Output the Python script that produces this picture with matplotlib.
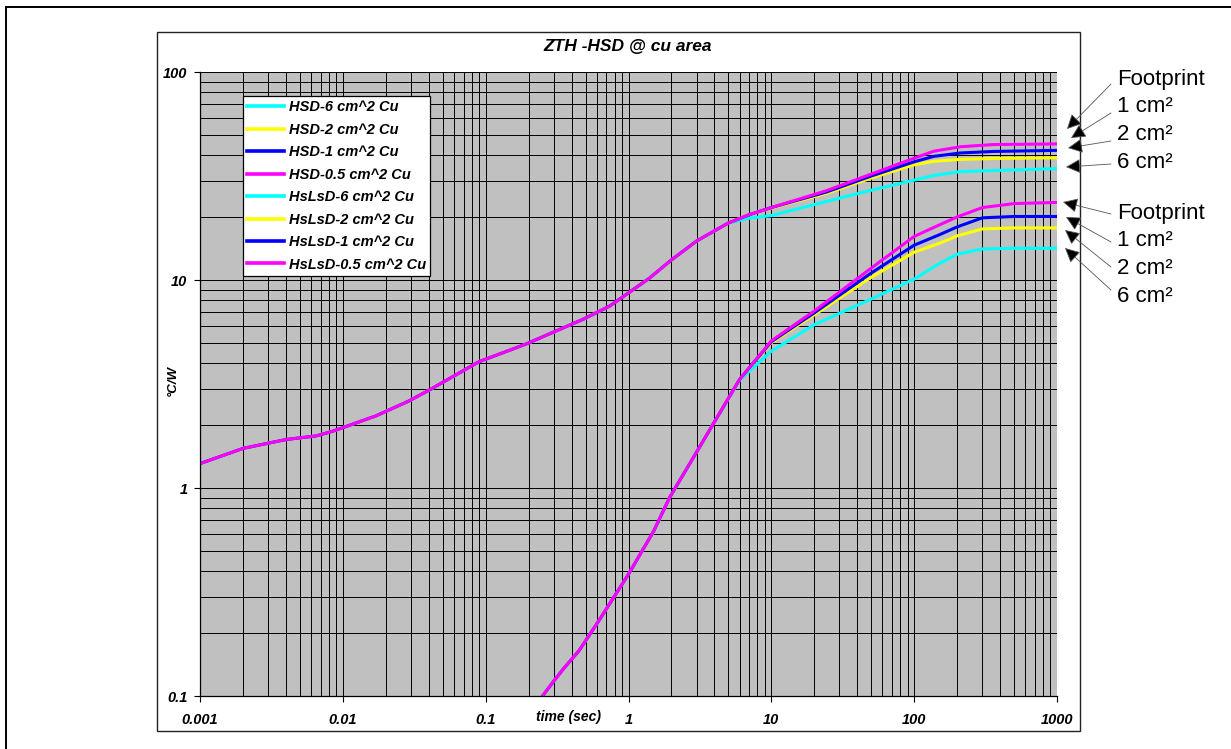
import matplotlib
matplotlib.use("Agg")
import matplotlib.pyplot as plt
from matplotlib.lines import Line2D
from matplotlib.patches import Rectangle, FancyArrowPatch

# HSD curves: the four areas overlap up to ~5 s
t_hsd_start = [0.001, 0.002, 0.004, 0.0065, 0.0084, 0.017, 0.029, 0.04, 0.09, 0.19, 0.48, 0.74, 1.4, 2, 3, 5]
z_hsd_start = [1.31, 1.55, 1.71, 1.78, 1.87, 2.22, 2.62, 2.95, 4.05, 4.91, 6.47, 7.5, 10.2, 12.5, 15.4, 18.8]
t_hsd_end = [7, 10, 24, 50, 100, 137, 210, 360, 1000]
z_hsd_6 = [19.8, 20.4, 23.8, 27.0, 30.2, 31.8, 33.2, 33.6, 34.3]
z_hsd_2 = [20.6, 22.2, 26.0, 30.9, 35.8, 37.2, 38.0, 38.4, 38.7]
z_hsd_1 = [20.6, 22.3, 26.4, 31.6, 37.0, 39.3, 40.8, 41.5, 42.0]
z_hsd_05 = [20.6, 22.3, 26.8, 32.3, 38.5, 41.6, 43.7, 44.8, 45.1]

# HsLsD curves: overlap up to ~4 s
t_hslsd_start = [0.22, 0.25, 0.3, 0.35, 0.45, 0.63, 1.0, 1.5, 1.94, 3.0, 3.9]
z_hslsd_start = [0.088, 0.1, 0.118, 0.135, 0.165, 0.234, 0.385, 0.62, 0.9, 1.49, 2.02]
t_hslsd_end = [6, 10, 20, 50, 100, 150, 200, 300, 500, 1000]
z_hslsd_6 = [3.3, 4.55, 6.1, 8.1, 10.1, 12.0, 13.3, 14.1, 14.2, 14.2]
z_hslsd_2 = [3.33, 5.0, 6.8, 10.3, 13.6, 15.0, 16.3, 17.6, 17.8, 17.8]
z_hslsd_1 = [3.33, 5.05, 6.95, 10.8, 14.7, 16.5, 18.0, 19.9, 20.2, 20.2]
z_hslsd_05 = [3.33, 5.1, 7.1, 11.4, 16.2, 18.4, 20.1, 22.3, 23.3, 23.6]

areas = ["6", "2", "1", "0.5"]
colors = ["#00FFFF", "#FFFF00", "#0000FF", "#FF00FF"]
hsd_tails = [z_hsd_6, z_hsd_2, z_hsd_1, z_hsd_05]
hslsd_tails = [z_hslsd_6, z_hslsd_2, z_hslsd_1, z_hslsd_05]

x_ticks = [0.001, 0.01, 0.1, 1, 10, 100, 1000]
x_ticklabels = ["0.001", "0.01", "0.1", "1", "10", "100", "1000"]
y_ticks = [0.1, 1, 10, 100]
y_ticklabels = ["0.1", "1", "10", "100"]

note_labels = ["Footprint", "1 cm²", "2 cm²", "6 cm²"]

W, H = 1231, 749
fig = plt.figure(figsize=(W / 100, H / 100), dpi=100)
plt.rcParams['font.family'] = ['Liberation Sans', 'DejaVu Sans']


def px(x, y):
    # pixel position from top-left -> figure fraction
    return x / W, 1 - y / H


# outer frame (runs off the right and bottom of the picture)
fig.add_artist(Line2D([6 / W, 1.01], [1 - 6.5 / H] * 2, color="black", lw=1.4, transform=fig.transFigure))
fig.add_artist(Line2D([6 / W] * 2, [1 - 6.5 / H, -0.01], color="black", lw=1.4, transform=fig.transFigure))
# chart box
x0, y0 = px(157, 731)
x1, y1 = px(1080, 32)
fig.add_artist(Rectangle((x0, y0), x1 - x0, y1 - y0, transform=fig.transFigure,
                         fill=False, ec="#222222", lw=1.0))

l, b = px(200, 696)
r, t = px(1057, 72)
ax = fig.add_axes([l, b, r - l, t - b])
ax.set_facecolor("#C0C0C0")

for c, a, tail in zip(colors, areas, hsd_tails):
    ax.plot(t_hsd_start + t_hsd_end, z_hsd_start + tail, color=c, lw=2.2,
            label="HSD-%s cm^2 Cu" % a)
for c, a, tail in zip(colors, areas, hslsd_tails):
    ax.plot(t_hslsd_start + t_hslsd_end, z_hslsd_start + tail, color=c, lw=2.2,
            label="HsLsD-%s cm^2 Cu" % a)

ax.set_xscale("log")
ax.set_yscale("log")
ax.set_xlim(0.001, 1000)
ax.set_ylim(0.1, 100)
ax.grid(True, which="both", color="black", lw=0.7)
ax.set_axisbelow(True)
ax.set_xticks(x_ticks)
ax.set_xticklabels(x_ticklabels)
ax.set_yticks(y_ticks)
ax.set_yticklabels(y_ticklabels)
ax.tick_params(which="minor", length=0)
ax.tick_params(which="major", direction="out", length=4, width=0.8, pad=8)
for lab in ax.get_xticklabels() + ax.get_yticklabels():
    lab.set_fontweight("bold")
    lab.set_fontstyle("italic")
    lab.set_fontsize(10.5)
ax.tick_params(axis="y", pad=5)
for s in ["top", "right"]:
    ax.spines[s].set_visible(False)
for s in ["left", "bottom"]:
    ax.spines[s].set_color("black")
    ax.spines[s].set_linewidth(0.9)

fig.text(*px(628, 46), "ZTH -HSD @ cu area", ha="center", va="center",
         fontsize=12.5, fontweight="bold", fontstyle="italic")
fig.text(*px(173, 380), "°C/W", ha="center", va="center", rotation=90,
         fontsize=9.5, fontweight="bold", fontstyle="italic")
fig.text(*px(568, 717), "time (sec)", ha="center", va="center",
         fontsize=10, fontweight="bold", fontstyle="italic")

leg = ax.legend(loc="upper left", bbox_to_anchor=px(243, 96), bbox_transform=fig.transFigure,
                borderaxespad=0, fancybox=False, framealpha=1, edgecolor="black",
                prop=dict(size=10.5, weight="bold", style="italic"),
                handlelength=2.5, labelspacing=0.58, borderpad=0.3, handletextpad=0.35)
leg.get_frame().set_linewidth(0.9)
for h in leg.get_lines():
    h.set_linewidth(2.6)

# footprint notes on the right with arrows
text_y = [79, 107, 135, 163, 213, 240, 268, 296]
tail_y = [84, 113, 141, 164, 214, 242, 267, 290]
tip_xy = [(1067, 129), (1071, 138), (1068, 148), (1066, 167),
          (1063, 202), (1066, 217), (1065, 230), (1065, 248)]
for i in range(8):
    fig.text(*px(1117, text_y[i]), note_labels[i % 4], ha="left", va="center", fontsize=16)
    fig.add_artist(FancyArrowPatch(
        px(1111, tail_y[i]), px(*tip_xy[i]), transform=fig.transFigure,
        arrowstyle="-|>,head_length=0.9,head_width=0.45", mutation_scale=10,
        shrinkA=0, shrinkB=0, lw=0.6, ec="#555555", fc="black"))

fig.savefig("out.png", dpi=100)
